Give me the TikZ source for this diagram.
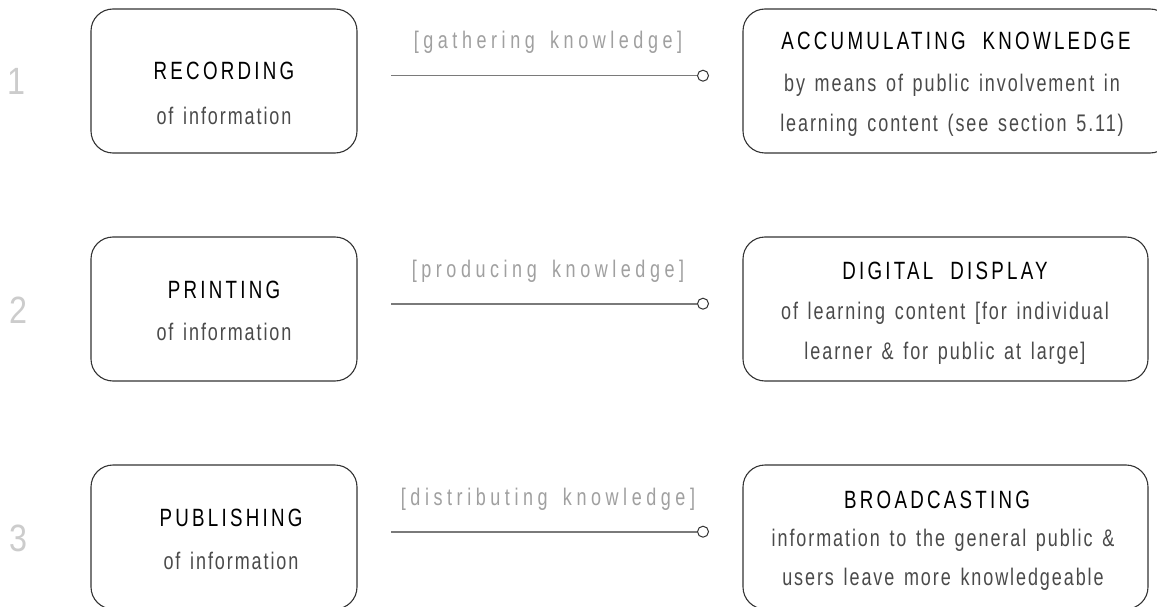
\documentclass[tikz,border=0pt]{standalone}
\usepackage{fontspec}
\setmainfont{Liberation Sans}
\newfontfamily\titlefont{Liberation Sans}[FakeStretch=0.75,LetterSpace=13,WordSpace=2]
\newfontfamily\bodyfont{Liberation Sans}[FakeStretch=0.75,LetterSpace=8,WordSpace=1.4]
\newfontfamily\labelfont{Liberation Sans}[FakeStretch=0.75,LetterSpace=19,WordSpace=1.6]
\newfontfamily\numfont{Liberation Sans}[FakeStretch=0.85]
\definecolor{boxline}{HTML}{333333}
\definecolor{bodygray}{HTML}{4A4A4A}
\definecolor{labelgray}{HTML}{A0A0A0}
\definecolor{numgray}{HTML}{CCCCCC}
\definecolor{linegray}{HTML}{7A7A7A}
\begin{document}
\begin{tikzpicture}[x=1pt,y=-1pt,
  stagebox/.style={draw=boxline,line width=1.1pt,rounded corners=22pt},
  ttl/.style={anchor=base,inner sep=0pt,text=black,font=\titlefont\fontsize{25}{25}\selectfont},
  bdy/.style={anchor=base,inner sep=0pt,text=bodygray,font=\bodyfont\fontsize{24}{24}\selectfont},
  lbl/.style={anchor=base,inner sep=0pt,text=labelgray,font=\labelfont\fontsize{24}{24}\selectfont},
  num/.style={anchor=base,inner sep=0pt,text=numgray,font=\numfont\fontsize{38}{38}\selectfont},
  conn/.style={draw=linegray,line width=1.6pt},
  endcirc/.style={circle,draw=boxline,fill=white,line width=1pt,minimum size=11pt,inner sep=0pt}
]
\clip (0,0) rectangle (1157,607);
\fill[white] (0,0) rectangle (1157,607);

% ---------- Row 1 ----------
\draw[stagebox] (91,9) rectangle (357,153);
\node[num] (n1) at (16,95) {1};
\node[ttl] (t1) at (224,80) {RECORDING};
\node[bdy] (b1) at (224,125) {of information};
\node[lbl] (l1) at (548,49) {[gathering knowledge]};
\coordinate (s1) at (391,75.7);
\node[endcirc] (c1) at (703,75.7) {};
\draw[conn] (s1) -- (c1.west);
\draw[stagebox] (743,9) rectangle (1172,153);
\node[ttl] (rt1) at (956,50) {ACCUMULATING KNOWLEDGE};
\node[bdy] (rb1a) at (952,92) {by means of public involvement in};
\node[bdy] (rb1b) at (952,132) {learning content (see section 5.11)};

% ---------- Row 2 ----------
\draw[stagebox] (91,237) rectangle (357,381);
\node[num] (n2) at (18,323) {2};
\node[ttl] (t2) at (224,298.3) {PRINTING};
\node[bdy] (b2) at (224,340) {of information};
\node[lbl] (l2) at (548,277) {[producing knowledge]};
\coordinate (s2) at (391,303.7);
\node[endcirc] (c2) at (703,303.7) {};
\draw[conn] (s2) -- (c2.west);
\draw[stagebox] (743,237) rectangle (1148,381);
\node[ttl] (rt2) at (945,279) {DIGITAL DISPLAY};
\node[bdy] (rb2a) at (945,319) {of learning content [for individual};
\node[bdy] (rb2b) at (945,359) {learner \& for public at large]};

% ---------- Row 3 ----------
\draw[stagebox] (91,465) rectangle (357,609);
\node[num] (n3) at (18,551) {3};
\node[ttl] (t3) at (231,526.3) {PUBLISHING};
\node[bdy] (b3) at (231,569.7) {of information};
\node[lbl] (l3) at (548,505) {[distributing knowledge]};
\coordinate (s3) at (391,531.7);
\node[endcirc] (c3) at (703,531.7) {};
\draw[conn] (s3) -- (c3.west);
\draw[stagebox] (743,465) rectangle (1148,609);
\node[ttl] (rt3) at (937,508.3) {BROADCASTING};
\node[bdy] (rb3a) at (943,546.7) {information to the general public \&};
\node[bdy] (rb3b) at (943,585) {users leave more knowledgeable};
\end{tikzpicture}
\end{document}
